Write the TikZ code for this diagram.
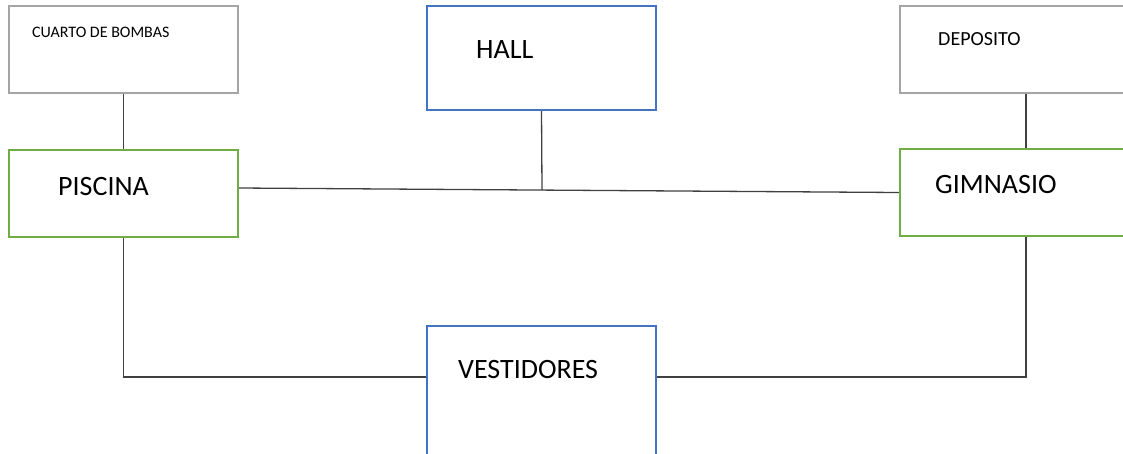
\documentclass[tikz,border=0pt]{standalone}
\usepackage{fontspec}
\setmainfont{Carlito}
\usepackage{tikz}
\usetikzlibrary{positioning}
\usepackage{xcolor}
\definecolor{roomgray}{RGB}{165,165,165}
\definecolor{roomblue}{RGB}{68,114,196}
\definecolor{roomgreen}{RGB}{112,173,71}
\definecolor{linkgray}{RGB}{64,64,64}
\tikzstyle{room} = [draw, line width=2.2pt, fill=white, inner sep=0pt, minimum width=229pt]
\tikzstyle{graybox} = [room, draw=roomgray, minimum height=87pt]
\tikzstyle{bluebox} = [room, draw=roomblue]
\tikzstyle{greenbox} = [room, draw=roomgreen, minimum height=87pt]
\tikzstyle{bigtext} = [anchor=base west, inner sep=0pt, font=\fontsize{28}{32}\selectfont]
\tikzstyle{link} = [line width=1.3pt, color=linkgray]

\begin{document}
\begin{tikzpicture}[x=1pt, y=-1pt]
\useasboundingbox (0,0) rectangle (1123,453);
\clip (0,0) rectangle (1123,453);

% Rooms
\node[graybox] (bombas) at (123.5,49.5) {};
\node[bluebox, minimum height=104pt] (hall) at (541.5,58) {};
\node[graybox, minimum width=252pt] (deposito) at (1026,49.5) {};
\node[greenbox] (piscina) at (123.5,193.5) {};
\node[greenbox, minimum width=252pt] (gimnasio) at (1026,192.5) {};
\node[bluebox, minimum height=144pt] (vestidores) at (541.5,398) {};

% Labels
\node[anchor=base west, inner sep=0pt, font=\fontsize{16}{19}\selectfont] (bombasText) at (32,37) {CUARTO DE BOMBAS};
\node[bigtext] (hallText) at (476,58) {HALL};
\node[anchor=base west, inner sep=0pt, font=\fontsize{20}{24}\selectfont] (depositoText) at (938,45) {DEPOSITO};
\node[bigtext] (piscinaText) at (58,195) {PISCINA};
\node[bigtext] (gimnasioText) at (935,193) {GIMNASIO};
\node[bigtext] (vestidoresText) at (458,378) {VESTIDORES};

% Links
\coordinate (hallJoin) at (542,190);
\draw[link] (bombas.south) -- (piscina.north);
\draw[link] (deposito.south) -- (gimnasio.north);
\draw[link] ([yshift=5.5pt]piscina.east) -- (gimnasio.west);
\draw[link] (hall.south) -- (hallJoin);
\draw[link] (piscina.south) |- ([yshift=21pt]vestidores.west);
\draw[link] (gimnasio.south) |- ([yshift=21pt]vestidores.east);
\end{tikzpicture}
\end{document}
